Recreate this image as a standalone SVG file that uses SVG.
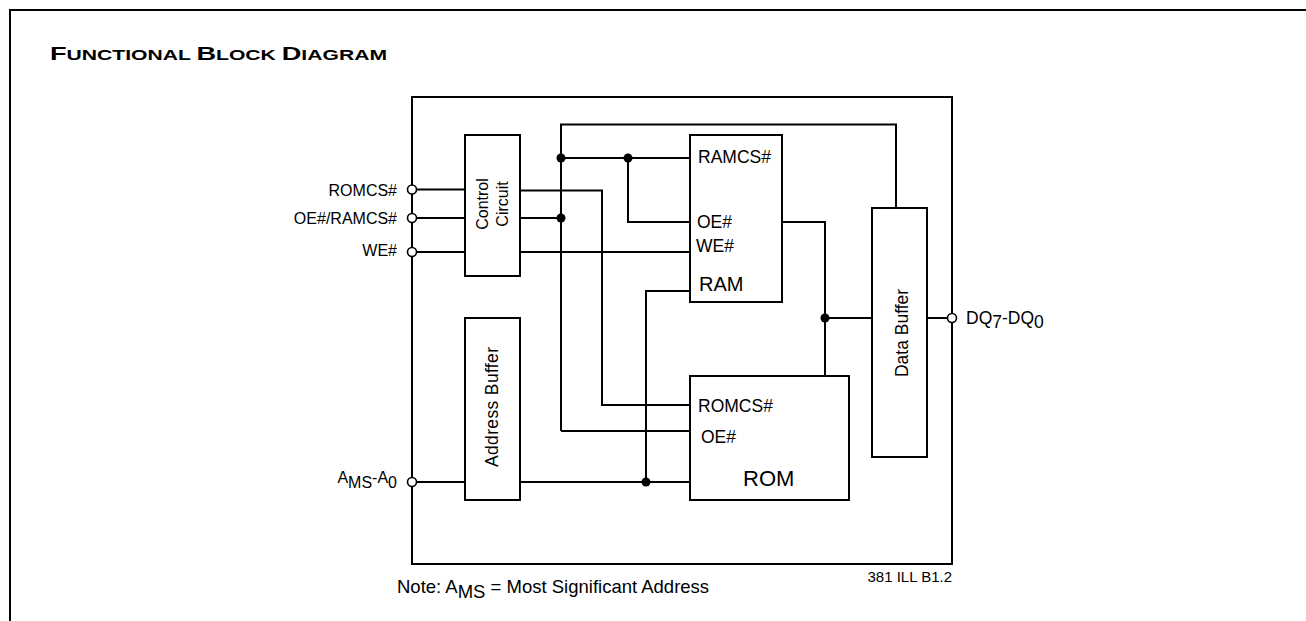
<svg xmlns="http://www.w3.org/2000/svg" width="1306" height="621" viewBox="0 0 1306 621">
<style>
.box{fill:#fff;stroke:#000;stroke-width:2}
.w{fill:none;stroke:#000;stroke-width:2}
.dot{fill:#000}
.pin{fill:#fff;stroke:#000;stroke-width:1.6}
text{font-family:"Liberation Sans",Arial,sans-serif;fill:#000}
.l{font-size:16px}
.m{font-size:17.5px}
</style>
<rect width="1306" height="621" fill="#fff"/>
<path class="w" d="M10,621 V10 H1306"/>
<text x="50" y="60" font-weight="bold" font-size="14" textLength="337" lengthAdjust="spacingAndGlyphs"><tspan font-size="18">F</tspan>UNCTIONAL <tspan font-size="18">B</tspan>LOCK <tspan font-size="18">D</tspan>IAGRAM</text>
<g id="chip"><rect class="w" x="412" y="97" width="540" height="467"/></g>
<g id="connectors">
<path class="w" d="M416,189.5 H465 M416,218 H465 M416,252 H465 M416,482 H465"/>
<path class="w" d="M520,190.5 H602 V405 H690"/>
<path class="w" d="M520,218 H561"/>
<path class="w" d="M561,431 V124.5 H896 V208"/>
<path class="w" d="M561,158 H690 M628,158 V222 H690"/>
<path class="w" d="M561,431 H690"/>
<path class="w" d="M520,252 H690"/>
<path class="w" d="M520,482 H690 M646,482 V291 H690"/>
<path class="w" d="M782,222 H825 V376 M825,318 H872"/>
<path class="w" d="M927,318 H948"/>
<circle class="dot" cx="561" cy="158" r="4.5"/>
<circle class="dot" cx="628" cy="158" r="4.5"/>
<circle class="dot" cx="561" cy="218" r="4.5"/>
<circle class="dot" cx="646" cy="482" r="4.5"/>
<circle class="dot" cx="825" cy="318" r="4.5"/>
</g>
<g id="pins">
<circle class="pin" cx="412" cy="189.5" r="4.5"/>
<circle class="pin" cx="412" cy="218" r="4.5"/>
<circle class="pin" cx="412" cy="252" r="4.5"/>
<circle class="pin" cx="412" cy="482" r="4.5"/>
<circle class="pin" cx="952" cy="318" r="4.5"/>
<text class="l" x="397" y="196" text-anchor="end">ROMCS#</text>
<text class="l" x="397" y="224" text-anchor="end">OE#/RAMCS#</text>
<text class="l" x="397" y="256" text-anchor="end">WE#</text>
<text class="l" x="397" y="483" text-anchor="end">A<tspan dy="5">MS</tspan><tspan dy="-5">-A</tspan><tspan dy="5">0</tspan></text>
<text class="m" x="966" y="324">DQ<tspan dy="4">7</tspan><tspan dy="-4">-DQ</tspan><tspan dy="4">0</tspan></text>
</g>
<g id="control">
<rect class="box" x="465" y="135" width="55" height="141"/>
<text class="l" text-anchor="middle" transform="translate(488,204) rotate(-90)">Control</text>
<text class="l" text-anchor="middle" transform="translate(508,204) rotate(-90)">Circuit</text>
</g>
<g id="address">
<rect class="box" x="465" y="318" width="55" height="182"/>
<text class="m" text-anchor="middle" transform="translate(498,407) rotate(-90)" textLength="120">Address Buffer</text>
</g>
<g id="ram">
<rect class="box" x="690" y="135" width="92" height="167"/>
<text class="m" x="698" y="163">RAMCS#</text>
<text class="m" x="697" y="228">OE#</text>
<text class="m" x="696" y="252">WE#</text>
<text x="699" y="291" font-size="20">RAM</text>
</g>
<g id="rom">
<rect class="box" x="690" y="376" width="159" height="124"/>
<text class="m" x="698" y="412">ROMCS#</text>
<text class="m" x="701" y="443">OE#</text>
<text x="743" y="486" font-size="22">ROM</text>
</g>
<g id="databuffer">
<rect class="box" x="872" y="208" width="55" height="249"/>
<text class="m" text-anchor="middle" transform="translate(908,333) rotate(-90)">Data Buffer</text>
</g>
<text x="397" y="593" font-size="18.5">Note: A<tspan dy="5">MS</tspan><tspan dy="-5"> = Most Significant Address</tspan></text>
<text x="952" y="582" font-size="15" text-anchor="end">381 ILL B1.2</text>
</svg>
